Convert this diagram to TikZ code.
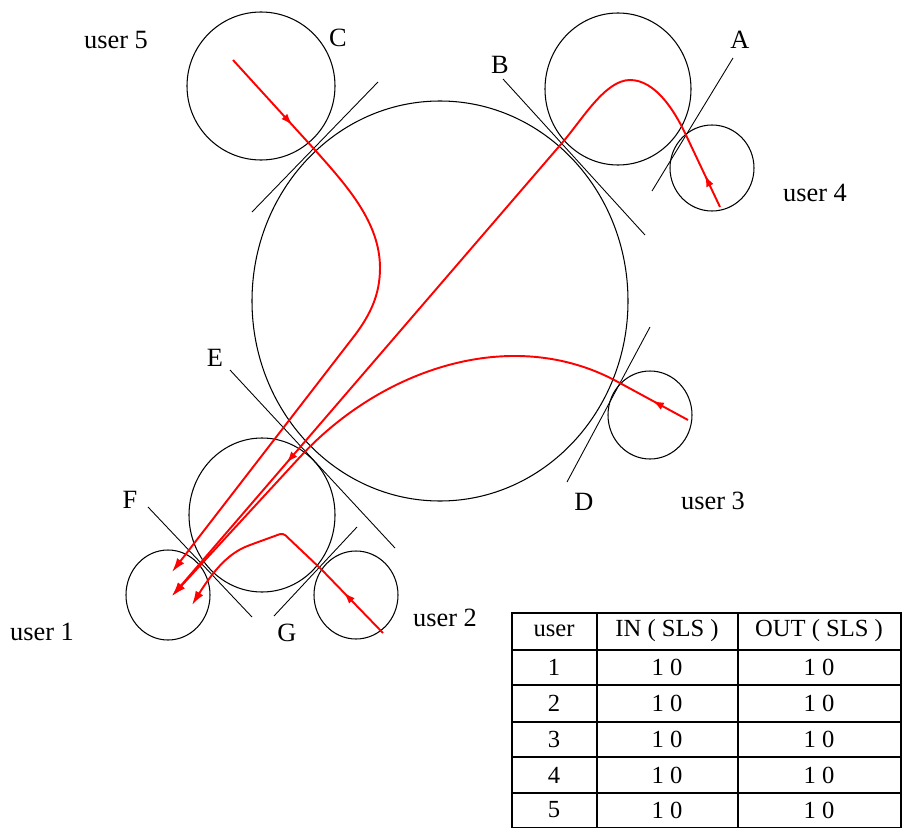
\documentclass[tikz,border=0pt]{standalone}
\usepackage{fontspec}
\setmainfont{Liberation Serif}
\usetikzlibrary{arrows.meta, decorations.markings}

\begin{document}
\begin{tikzpicture}[x=0.02cm, y=-0.02cm, font=\fontsize{15}{18}\selectfont,
	ring/.style={draw=black, line width=0.6pt},
	tang/.style={draw=black, line width=0.5pt},
	route/.style={draw=red, line width=1.1pt, line join=round},
	endtip/.style={-{Latex[length=8pt, width=5pt]}},
	midtip/.style={postaction={decorate, decoration={markings,
		mark=at position #1 with {\arrow{Latex[length=6.5pt, width=4.5pt]}}}}},
	tabline/.style={draw=black, line width=0.8pt},
	cell/.style={font=\fontsize{14}{16}\selectfont}]
		\useasboundingbox (0,0) rectangle (903,828);

		% Rings
		\draw[ring] (440,301) ellipse [x radius=188, y radius=200];
		\draw[ring] (261,86) circle [radius=74];
		\draw[ring] (618,89) ellipse [x radius=73, y radius=76];
		\draw[ring] (712,168) ellipse [x radius=42, y radius=43];
		\draw[ring] (650,415) ellipse [x radius=42, y radius=44];
		\draw[ring] (262,515) ellipse [x radius=73, y radius=77];
		\draw[ring] (168,595) ellipse [x radius=42, y radius=45];
		\draw[ring] (356,595) ellipse [x radius=42, y radius=44];

		% Tangent lines
		\draw[tang] (252,212) -- (378,82);
		\draw[tang] (503,79) -- (645,235);
		\draw[tang] (733,58) -- (652,191);
		\draw[tang] (650,327) -- (567,482);
		\draw[tang] (230,370) -- (395,548);
		\draw[tang] (148,507) -- (252,617);
		\draw[tang] (357,527) -- (274,616);

		% Labels
		\node (lblA) at (740,40) {A};
		\node (lblB) at (500,65) {B};
		\node (lblC) at (338,38) {C};
		\node (lblD) at (584,502) {D};
		\node (lblE) at (215,358) {E};
		\node (lblF) at (130,500) {F};
		\node (lblG) at (287,633) {G};
		\node (nm1) at (42,632) {user 1};
		\node (nm2) at (445,618) {user 2};
		\node (nm3) at (713,501) {user 3};
		\node (nm4) at (815,193) {user 4};
		\node (nm5) at (116,40) {user 5};

		% Touch points, starts and ends
		\coordinate (A) at (685,133);
		\coordinate (B) at (562,143);
		\coordinate (C) at (315,150);
		\coordinate (D) at (618,382);
		\coordinate (E) at (300,457);
		\coordinate (G) at (322,570);
		\coordinate (s2) at (383,633);
		\coordinate (s3) at (688,420);
		\coordinate (s4) at (720,207);
		\coordinate (s5) at (233,60);
		\coordinate (t2) at (192,605);
		\coordinate (t34) at (172,596);
		\coordinate (t5) at (172,572);

		% Routes to user 1
		\draw[route, endtip, midtip=50pt] (s5) -- (C)
			.. controls (348,187) and (380,223) .. (380,268)
			.. controls (380,295) and (370,315) .. (355,335) -- (t5);
		\draw[route, endtip, midtip=20pt, midtip=-100pt] (s4) -- (A)
			.. controls (674,110) and (655,80) .. (630,80)
			.. controls (605,80) and (582,120) .. (B) -- (t34);
		\draw[route, endtip, midtip=23pt] (s3) -- (D)
			.. controls (512,324) and (381,369) .. (E) -- (t34);
		\draw[route, endtip, midtip=32pt, rounded corners=2pt] (s2) -- (G) -- (283,533) -- (250,545)
			[sharp corners] .. controls (230,553) and (215,568) .. (t2);

		% Table
		\draw[tabline] (512,613) rectangle (901,828);
		\foreach \y in {650,685,722,757,793} \draw[tabline] (512,\y) -- (901,\y);
		\foreach \x in {597,738} \draw[tabline] (\x,613) -- (\x,828);
		\node[cell] (h1) at (554,631) {user};
		\node[cell] (h2) at (667,631) {IN ( SLS )};
		\node[cell] (h3) at (819,631) {OUT ( SLS )};
		\foreach \u/\y in {1/667,2/703,3/739,4/775,5/810} {
			\node[cell] (u\u) at (554,\y) {\u};
			\node[cell] (in\u) at (667,\y) {1 0};
			\node[cell] (out\u) at (819,\y) {1 0};
		}
	\end{tikzpicture}
\end{document}
